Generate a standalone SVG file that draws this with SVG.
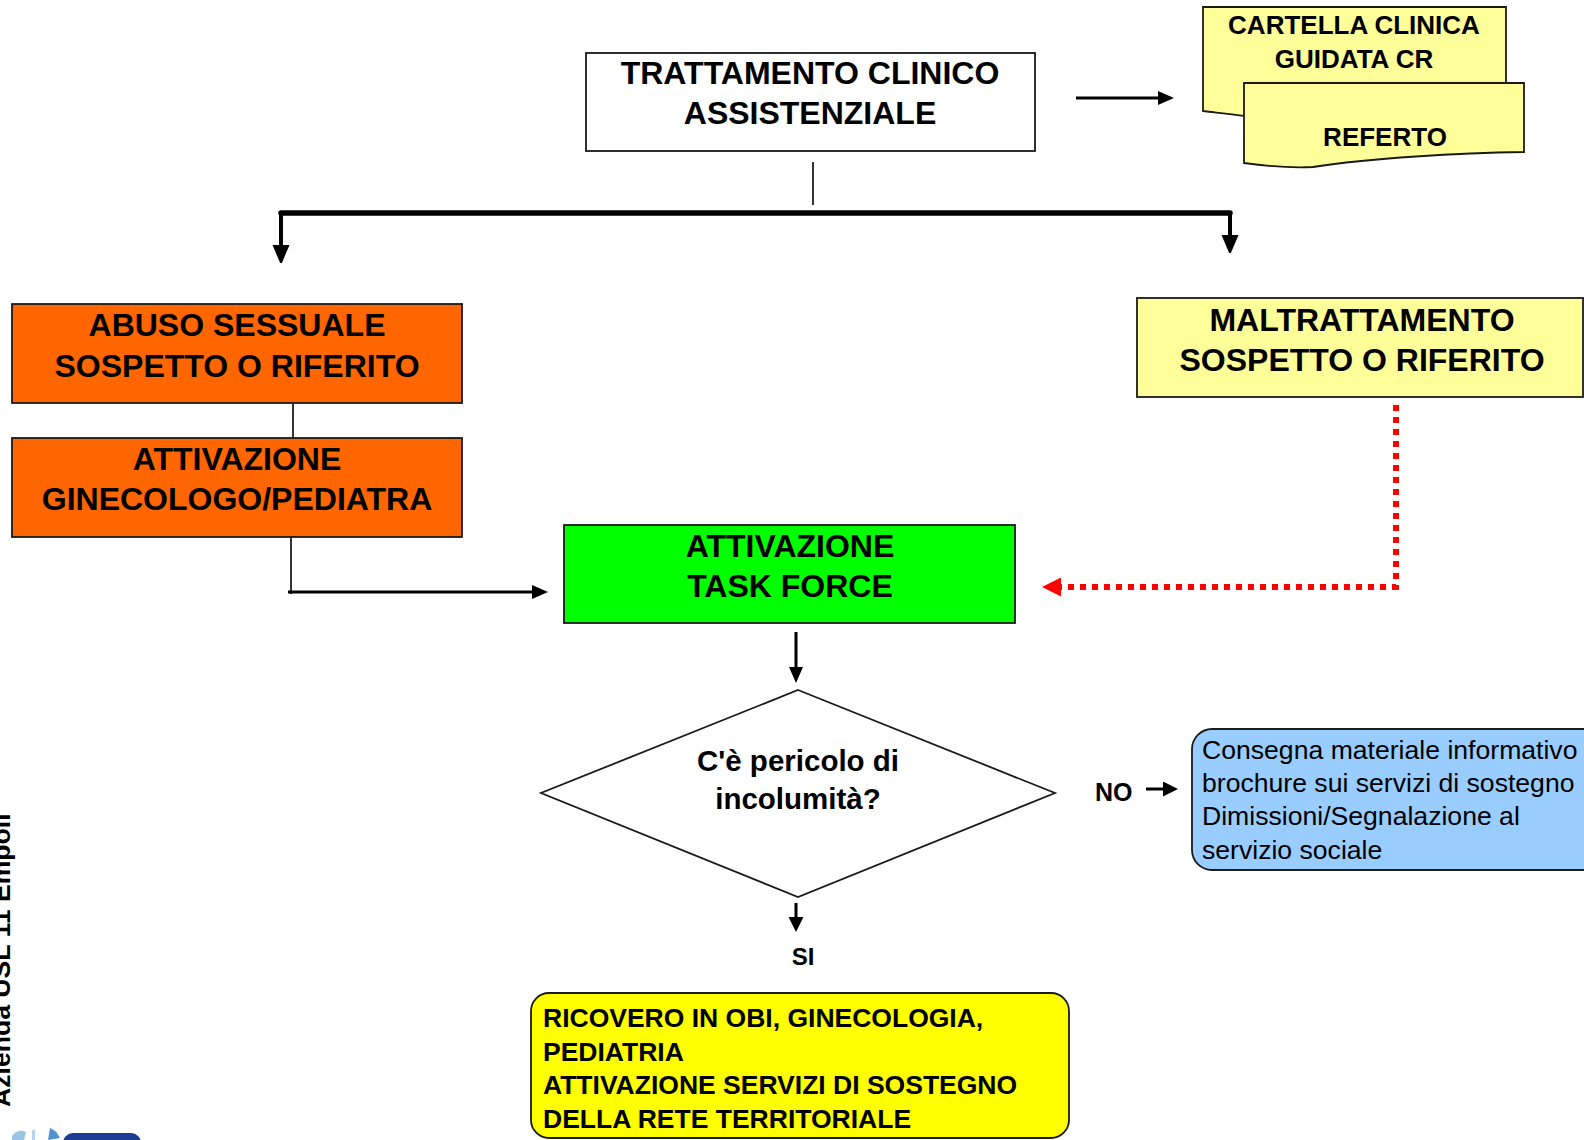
<svg xmlns="http://www.w3.org/2000/svg" width="1584" height="1140" viewBox="0 0 1584 1140">
  <defs>
    <style>
      .box { stroke: #1a1a1a; stroke-width: 1.8; }
      .lbl { font-family: "Liberation Sans", Arial, Helvetica, sans-serif; font-weight: bold; fill: #000; }
      .big { font-size: 32px; text-anchor: middle; }
      .ask { font-size: 29.5px; text-anchor: middle; }
      .mid { font-size: 26px; text-anchor: middle; }
      .note { font-family: "Liberation Sans", Arial, Helvetica, sans-serif; font-size: 26.6px; fill: #000; }
      .wire { stroke: #000; fill: none; }
    </style>
    <marker id="head-lg" markerUnits="userSpaceOnUse" markerWidth="18" markerHeight="20" refX="0" refY="8.5" orient="auto">
      <path d="M0,0 L20,8.5 L0,17 Z" fill="#000"/>
    </marker>
    <marker id="head" markerUnits="userSpaceOnUse" markerWidth="16" markerHeight="16" refX="0" refY="7" orient="auto">
      <path d="M0,0 L16,7 L0,14 Z" fill="#000"/>
    </marker>
    <marker id="head-sm" markerUnits="userSpaceOnUse" markerWidth="15" markerHeight="16" refX="0" refY="7.5" orient="auto">
      <path d="M0,0 L15,7.5 L0,15 Z" fill="#000"/>
    </marker>
    <marker id="head-red" markerUnits="userSpaceOnUse" markerWidth="19" markerHeight="19" refX="0" refY="9.5" orient="auto">
      <path d="M0,0 L19,9.5 L0,19 Z" fill="#ff0000"/>
    </marker>
  </defs>

  <rect width="1584" height="1140" fill="#fff"/>

  <!-- side caption, cut by the page edge -->
  <g id="side-caption">
    <text class="lbl" font-size="26.6" fill="#111" transform="translate(10,1107) rotate(-90)">Azienda USL 11 Empoli</text>
  </g>

  <!-- logo fragment at the bottom edge -->
  <g id="logo">
    <path d="M12,1136 Q18,1128 26,1132 L24,1140 L12,1140 Z" fill="#9cc3e6"/>
    <rect x="32" y="1130" width="3" height="10" fill="#b8d3ee"/>
    <path d="M48,1140 L50,1128 Q56,1130 60,1138 Z" fill="#4f93d2"/>
    <rect x="63" y="1133" width="78" height="24" rx="10" fill="#1b3c92"/>
  </g>

  <!-- connectors -->
  <g id="connectors">
    <line class="wire" x1="1076" y1="98" x2="1158" y2="98" stroke-width="3" marker-end="url(#head)"/>
    <line class="wire" x1="813" y1="162" x2="813" y2="205" stroke-width="1.6"/>
    <line class="wire" x1="281" y1="213" x2="1230" y2="213" stroke-width="5.5" stroke-linecap="round"/>
    <line class="wire" x1="281" y1="213" x2="281" y2="245" stroke-width="4" marker-end="url(#head-lg)"/>
    <line class="wire" x1="1230" y1="213" x2="1230" y2="235" stroke-width="4" marker-end="url(#head-lg)"/>
    <line class="wire" x1="293" y1="404" x2="293" y2="438" stroke-width="1.6"/>
    <line class="wire" x1="291" y1="537" x2="291" y2="594" stroke-width="1.6"/>
    <line class="wire" x1="288" y1="592" x2="532" y2="592" stroke-width="3" marker-end="url(#head)"/>
    <path d="M1396,405 V587 H1061" fill="none" stroke="#ff0000" stroke-width="6" stroke-dasharray="6 6" marker-end="url(#head-red)"/>
    <line class="wire" x1="796" y1="632" x2="796" y2="667" stroke-width="3" marker-end="url(#head)"/>
    <line class="wire" x1="796" y1="903" x2="796" y2="917" stroke-width="3" marker-end="url(#head-sm)"/>
    <line class="wire" x1="1146" y1="789" x2="1163" y2="789" stroke-width="3" marker-end="url(#head-sm)"/>
  </g>

  <g id="trattamento">
    <rect class="box" x="586" y="53" width="449" height="98" fill="#fff"/>
    <text class="lbl big" x="810" y="84">TRATTAMENTO CLINICO</text>
    <text class="lbl big" x="810" y="124">ASSISTENZIALE</text>
  </g>

  <g id="cartella">
    <path class="box" d="M1203,7 H1506 V125 C1430,125 1330,130 1260,118 C1240,115 1220,113 1203,111 Z" fill="#ffff99"/>
    <text class="lbl mid" x="1354" y="34">CARTELLA CLINICA</text>
    <text class="lbl mid" x="1354" y="68">GUIDATA CR</text>
  </g>

  <g id="referto">
    <path class="box" d="M1244,83 H1524 V152 C1460,153 1370,158 1313,167 C1290,168 1265,166 1244,163 Z" fill="#ffff99"/>
    <text class="lbl mid" x="1385" y="146">REFERTO</text>
  </g>

  <g id="abuso">
    <rect class="box" x="12" y="304" width="450" height="99" fill="#ff6600"/>
    <text class="lbl big" x="237" y="336">ABUSO SESSUALE</text>
    <text class="lbl big" x="237" y="377">SOSPETTO O RIFERITO</text>
  </g>

  <g id="ginecologo">
    <rect class="box" x="12" y="438" width="450" height="99" fill="#ff6600"/>
    <text class="lbl big" x="237" y="470">ATTIVAZIONE</text>
    <text class="lbl big" x="237" y="510">GINECOLOGO/PEDIATRA</text>
  </g>

  <g id="maltrattamento">
    <rect class="box" x="1137" y="298" width="446" height="99" fill="#ffff99"/>
    <text class="lbl big" x="1362" y="331">MALTRATTAMENTO</text>
    <text class="lbl big" x="1362" y="371">SOSPETTO O RIFERITO</text>
  </g>

  <g id="task-force">
    <rect class="box" x="564" y="525" width="451" height="98" fill="#00ff00"/>
    <text class="lbl big" x="790" y="557">ATTIVAZIONE</text>
    <text class="lbl big" x="790" y="597">TASK FORCE</text>
  </g>

  <g id="pericolo">
    <polygon class="box" points="798,690 1055,793 798,897 541,793" fill="#fff"/>
    <text class="lbl ask" x="798" y="771">C'è pericolo di</text>
    <text class="lbl ask" x="798" y="809">incolumità?</text>
  </g>

  <g id="label-no">
    <text class="lbl" font-size="25" x="1095" y="801">NO</text>
  </g>

  <g id="label-si">
    <text class="lbl" font-size="24" text-anchor="middle" x="803" y="965">SI</text>
  </g>

  <g id="consegna">
    <rect class="box" x="1192" y="729" width="420" height="141" rx="20" fill="#99ccff"/>
    <text class="note" x="1202" y="759">Consegna materiale informativo</text>
    <text class="note" x="1202" y="792">brochure sui servizi di sostegno</text>
    <text class="note" x="1202" y="825">Dimissioni/Segnalazione al</text>
    <text class="note" x="1202" y="859">servizio sociale</text>
  </g>

  <g id="ricovero">
    <rect class="box" x="531" y="993" width="538" height="145" rx="18" fill="#ffff00"/>
    <text class="lbl" font-size="26.5" x="543" y="1027">RICOVERO IN OBI, GINECOLOGIA,</text>
    <text class="lbl" font-size="26.5" x="543" y="1061">PEDIATRIA</text>
    <text class="lbl" font-size="26.5" x="543" y="1094">ATTIVAZIONE SERVIZI DI SOSTEGNO</text>
    <text class="lbl" font-size="26.5" x="543" y="1128">DELLA RETE TERRITORIALE</text>
  </g>
</svg>
